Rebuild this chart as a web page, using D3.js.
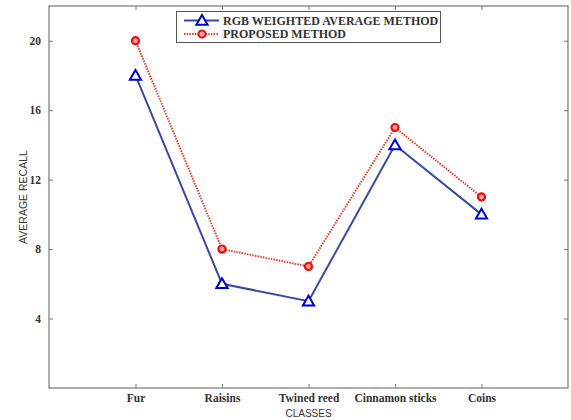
<!DOCTYPE html>
<html><head><meta charset="utf-8">
<script src="https://cdn.jsdelivr.net/npm/d3@7"></script>
<style>body{margin:0;background:#fff}</style>
</head><body>
<script>
const categories = ["Fur", "Raisins", "Twined reed", "Cinnamon sticks", "Coins"];
const rgbValues = [18, 6, 5, 14, 10];
const proposedValues = [20, 8, 7, 15, 11];
const yTicks = [4, 8, 12, 16, 20];
const seriesNames = ["RGB WEIGHTED AVERAGE METHOD", "PROPOSED METHOD"];

const W = 571, H = 420;
const m = {left: 49, right: 3, top: 6, bottom: 32};
const svg = d3.select("body").append("svg").attr("width", W).attr("height", H);
const x = d3.scaleLinear().domain([0, 6]).range([m.left, W - m.right]);
const y = d3.scaleLinear().domain([0, 22]).range([H - m.bottom, m.top]);
const xi = categories.map((c, i) => i + 1);
const axisCol = "#777";
const serif = "'Liberation Serif','Times New Roman',serif";

// box
svg.append("rect").attr("x", x(0)).attr("y", y(22)).attr("width", x(6) - x(0)).attr("height", y(0) - y(22))
  .attr("fill", "none").attr("stroke", axisCol).attr("stroke-width", 1.2);

const gx = svg.append("g").attr("transform", `translate(0,${y(0)})`)
  .call(d3.axisBottom(x).tickValues(xi).tickFormat((d) => categories[d - 1]).tickSizeInner(-4).tickSizeOuter(0).tickPadding(5.5));
const gxt = svg.append("g").attr("transform", `translate(0,${y(22)})`)
  .call(d3.axisTop(x).tickValues(xi).tickFormat("").tickSizeInner(-4).tickSizeOuter(0));
const gy = svg.append("g").attr("transform", `translate(${x(0)},0)`)
  .call(d3.axisLeft(y).tickValues(yTicks).tickSizeInner(-4).tickSizeOuter(0).tickPadding(8));
const gyr = svg.append("g").attr("transform", `translate(${x(6)},0)`)
  .call(d3.axisRight(y).tickValues(yTicks).tickFormat("").tickSizeInner(-4).tickSizeOuter(0));
[gx, gxt, gy, gyr].forEach(g => {
  g.select(".domain").remove();
  g.selectAll(".tick line").attr("stroke", axisCol);
  g.selectAll("text").attr("font-family", serif).attr("font-weight", "bold").attr("font-size", 11.5).attr("fill", "#333");
});

svg.append("text").attr("x", (x(0) + x(6)) / 2).attr("y", 416.5).attr("text-anchor", "middle")
  .attr("font-family", "'Liberation Sans',Arial,sans-serif").attr("font-size", 10).attr("fill", "#333").text("CLASSES");
svg.append("text").attr("transform", `translate(27,${(y(0) + y(22)) / 2}) rotate(-90)`).attr("text-anchor", "middle")
  .attr("font-family", "'Liberation Sans',Arial,sans-serif").attr("font-size", 10.5).attr("fill", "#333").text("AVERAGE RECALL");

const line = d3.line().x((d, i) => x(i + 1)).y(d => y(d));
const blueLine = "#3a4a9e", blueMark = "#0000d0", redLine = "#e0402e", redMark = "#e81010";

svg.append("path").datum(rgbValues).attr("d", line).attr("fill", "none").attr("stroke", blueLine).attr("stroke-width", 2);
svg.append("path").datum(proposedValues).attr("d", line).attr("fill", "none").attr("stroke", redLine).attr("stroke-width", 2).attr("stroke-dasharray", "1.5,1.2");

const tri = d3.symbol().type(d3.symbolTriangle).size(55);
const circ = d3.symbol().type(d3.symbolCircle).size(40);
svg.append("g").selectAll("path").data(rgbValues).join("path")
  .attr("transform", (d, i) => `translate(${x(i + 1)},${y(d) + 1})`).attr("d", tri)
  .attr("fill", "#fff").attr("stroke", blueMark).attr("stroke-width", 2);
svg.append("g").selectAll("path").data(proposedValues).join("path")
  .attr("transform", (d, i) => `translate(${x(i + 1)},${y(d)})`).attr("d", circ)
  .attr("fill", "#f3a0a0").attr("stroke", redMark).attr("stroke-width", 2.2);

// legend
const lg = svg.append("g");
lg.append("rect").attr("x", 176.5).attr("y", 11.5).attr("width", 264).attr("height", 31)
  .attr("fill", "#fff").attr("stroke", "#555").attr("stroke-width", 1);
const rows = [{y: 20.5, col: blueLine, mk: blueMark, dash: null, sym: tri, fill: "#fff"},
              {y: 34, col: redLine, mk: redMark, dash: "1.5,1.2", sym: circ, fill: "#f3a0a0"}];
rows.forEach((r, i) => {
  lg.append("line").attr("x1", 184).attr("x2", 219).attr("y1", r.y).attr("y2", r.y)
    .attr("stroke", r.col).attr("stroke-width", 2).attr("stroke-dasharray", r.dash);
  lg.append("path").attr("d", r.sym).attr("transform", `translate(202,${r.y + (i === 0 ? 1 : 0)})`)
    .attr("fill", r.fill).attr("stroke", r.mk).attr("stroke-width", 2);
  lg.append("text").attr("x", 223).attr("y", r.y + 4).attr("font-family", serif).attr("font-weight", "bold")
    .attr("font-size", 12).attr("fill", "#333").text(seriesNames[i]);
});
</script>
</body></html>
